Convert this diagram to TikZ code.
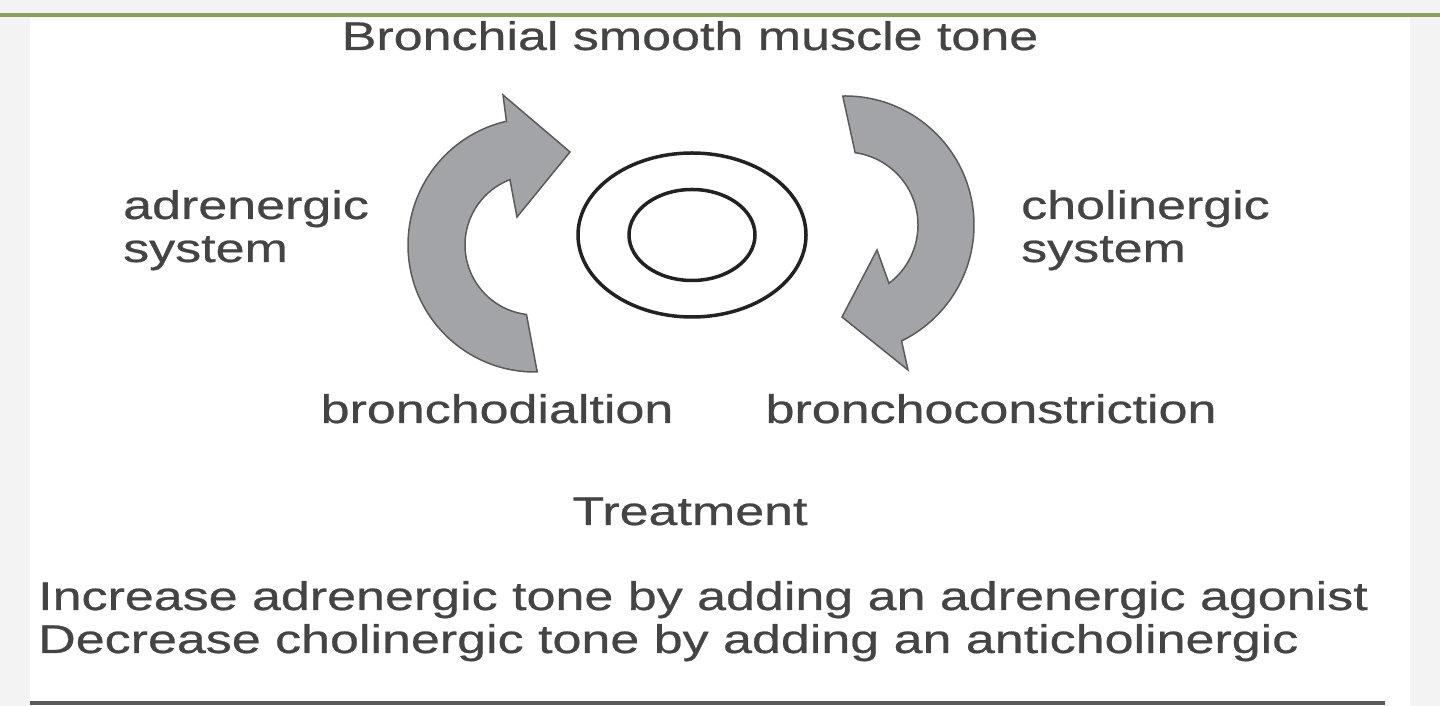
\documentclass[tikz,border=0pt]{standalone}
\usepackage{fontspec}
\usetikzlibrary{calc,shapes.geometric}
\newfontfamily\diagfont[FakeStretch=1.3,FakeBold=0.6]{Liberation Sans}
\definecolor{txtgray}{HTML}{444444}
\definecolor{arrowfill}{HTML}{A3A4A8}
\definecolor{arrowline}{HTML}{5A5A5A}
\definecolor{topgreen}{HTML}{8A9F62}
\definecolor{sidegray}{HTML}{F3F3F3}
\definecolor{ringline}{HTML}{222222}
\tikzset{
  lbl/.style={inner sep=0pt, text=txtgray, font=\diagfont\fontsize{40}{44}\selectfont},
  bigarrow/.style={fill=arrowfill, draw=arrowline, line width=1.5pt, line join=miter},
  ring/.style={draw=ringline, line width=3.5pt}
}
\begin{document}
\begin{tikzpicture}[x=1pt,y=1pt]
\useasboundingbox (0,0) rectangle (1440,706);
% background
\fill[sidegray] (0,0) rectangle (1440,706);
\fill[white] (30,0) rectangle (1410,688);
\draw[topgreen, line width=4pt] (0,691) -- (1440,691);
\draw[black!65, line width=3.5pt] (30,3) -- (1385,3);

% texts
\node[lbl, anchor=base] (title) at (690,656) {Bronchial smooth muscle tone};
\node[lbl, anchor=base west] (adr1) at (123,487) {adrenergic};
\node[lbl, anchor=base west] (adr2) at (123,444) {system};
\node[lbl, anchor=base west] (cho1) at (1021,487) {cholinergic};
\node[lbl, anchor=base west] (cho2) at (1021,444) {system};
\node[lbl, anchor=base] (dil) at (497,283) {bronchodialtion};
\node[lbl, anchor=base] (con) at (991,283) {bronchoconstriction};
\node[lbl, anchor=base] (treat) at (690,181) {Treatment};
\node[lbl, anchor=base west] (inc) at (38,96) {Increase adrenergic tone by adding an adrenergic agonist};
\node[lbl, anchor=base west] (dec) at (38,53) {Decrease cholinergic tone by adding an anticholinergic};

% left curved arrow (adrenergic)
\coordinate (lc) at (535,461);
\draw[bigarrow] (503,611) -- (570,554) -- (517,489)
  -- ($(lc)+(111:70)$) arc[start angle=111, end angle=263, radius=70]
  -- ($(lc)+(271:127)$) arc[start angle=271, end angle=103, radius=127]
  -- cycle;

% right curved arrow (cholinergic)
\coordinate (rc) at (845,481);
\draw[bigarrow] ($(rc)+(91:129)$) arc[start angle=91, end angle=-64, radius=129]
  -- (908,336) -- (842,389) -- (877,456)
  -- ($(rc)+(-53:73)$) arc[start angle=-53, end angle=82, radius=73]
  -- cycle;

% airway rings
\node[ring, ellipse, minimum width=228pt, minimum height=164pt, inner sep=0pt] (outer) at (692,471) {};
\node[ring, ellipse, minimum width=126pt, minimum height=91pt, inner sep=0pt] (inner) at (692,471) {};
\end{tikzpicture}
\end{document}
